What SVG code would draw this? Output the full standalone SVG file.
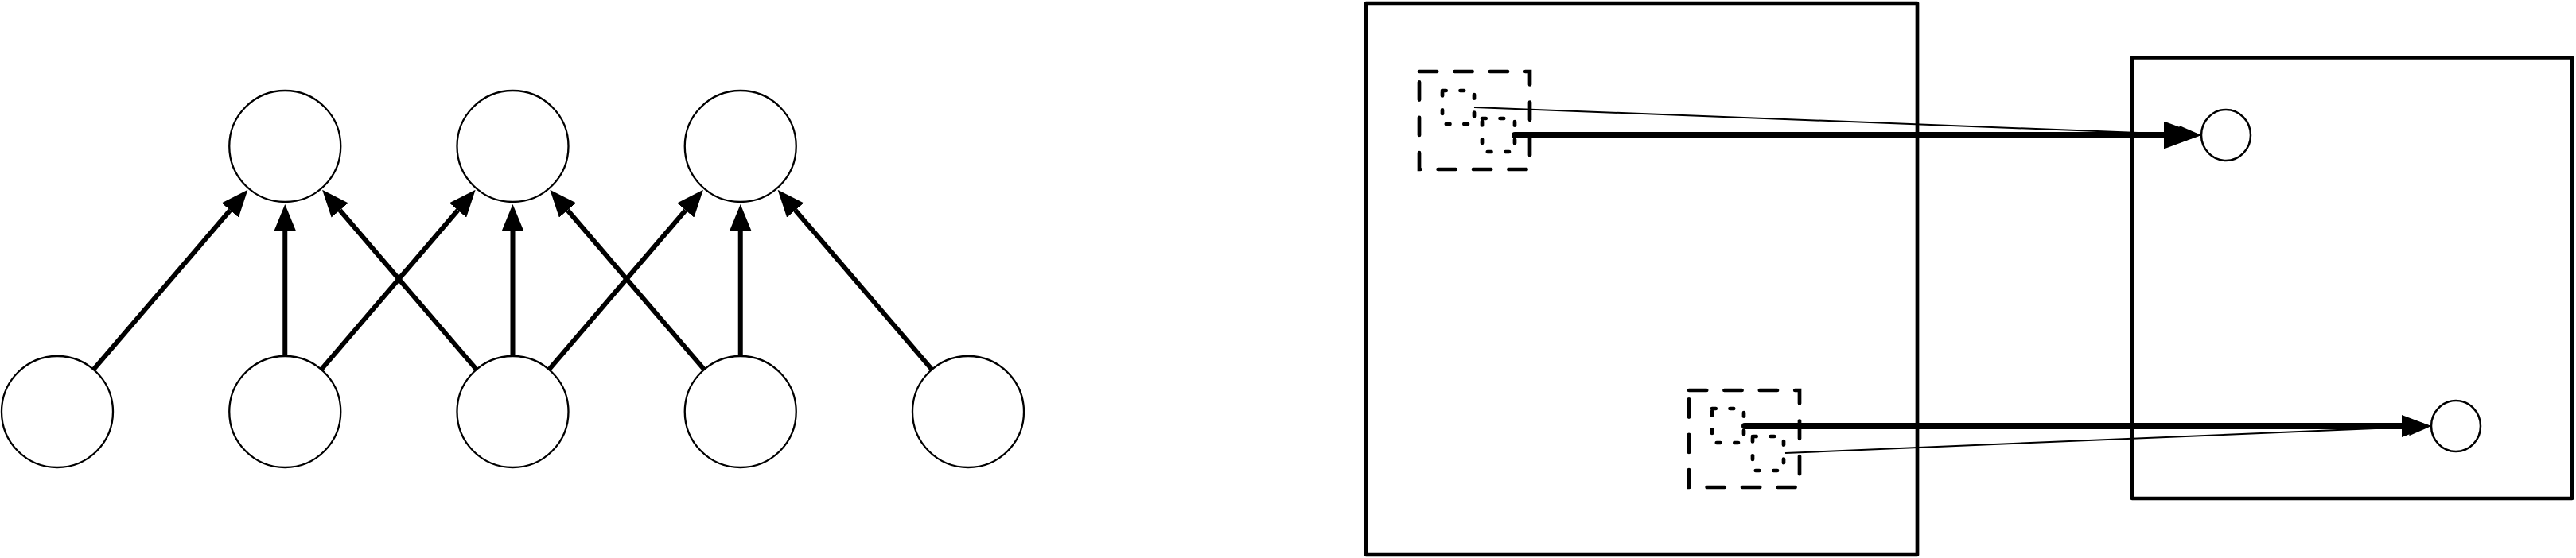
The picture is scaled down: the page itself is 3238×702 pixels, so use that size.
<svg xmlns="http://www.w3.org/2000/svg" width="3238" height="702" viewBox="0 0 3238 702">
<style>
.node{fill:#fff;stroke:#000;stroke-width:2.3}
.frame{fill:none;stroke:#000;stroke-width:4.7;stroke-linejoin:round}
.outer{fill:none;stroke:#000;stroke-width:4.7;stroke-dasharray:22.2 22.2;stroke-linecap:round}
.inner{fill:none;stroke:#000;stroke-width:4.7;stroke-dasharray:4.7 17.8;stroke-linecap:round}
.edge{fill:none;stroke:#000;stroke-width:6;marker-end:url(#arrowL)}
.thick{fill:none;stroke:#000;stroke-width:8;stroke-linecap:round}
.thin{fill:none;stroke:#000;stroke-width:2;marker-end:url(#arrowThin)}
.small{fill:#fff;stroke:#000;stroke-width:2.5}
</style>
<defs>
<marker id="arrowL" markerUnits="userSpaceOnUse" viewBox="0 -14 34 28" markerWidth="34" markerHeight="28" refX="0" refY="0" orient="auto"><path d="M0,-14 L34,0 L0,14 z" fill="#000"/></marker>
<marker id="arrowThickTop" markerUnits="userSpaceOnUse" viewBox="0 -17.5 47 35" markerWidth="47" markerHeight="35" refX="0" refY="0" orient="auto"><path d="M0,-17.5 L47,0 L0,17.5 z" fill="#000"/></marker>
<marker id="arrowThickBot" markerUnits="userSpaceOnUse" viewBox="0 -14 37 28" markerWidth="37" markerHeight="28" refX="0" refY="0" orient="auto"><path d="M0,-14 L37,0 L0,14 z" fill="#000"/></marker>
<marker id="arrowThin" markerUnits="userSpaceOnUse" viewBox="0 -11 28 22" markerWidth="28" markerHeight="22" refX="0" refY="0" orient="auto"><path d="M0,-11 L28,0 L0,11 z" fill="#000"/></marker>
</defs>
<rect width="3238" height="702" fill="#fff"/>

<g id="b0"><circle class="node" cx="72" cy="518" r="70"/></g>
<g id="b1"><circle class="node" cx="358.25" cy="518" r="70"/></g>
<g id="b2"><circle class="node" cx="644.5" cy="518" r="70"/></g>
<g id="b3"><circle class="node" cx="930.75" cy="518" r="70"/></g>
<g id="b4"><circle class="node" cx="1217" cy="518" r="70"/></g>
<g id="t0"><circle class="node" cx="358.25" cy="184" r="70"/></g>
<g id="t1"><circle class="node" cx="644.5" cy="184" r="70"/></g>
<g id="t2"><circle class="node" cx="930.75" cy="184" r="70"/></g>

<g id="frame-left"><rect class="frame" x="1717" y="4" width="693" height="694"/></g>
<g id="frame-right"><rect class="frame" x="2680" y="72.5" width="553" height="554.5"/></g>

<g id="group-top">
<rect class="outer" x="1784" y="90" width="139" height="123"/>
<rect class="inner" x="1813" y="114" width="40" height="42"/>
<rect class="inner" x="1863" y="149" width="41" height="42"/>
</g>
<g id="group-bottom">
<rect class="outer" x="2123" y="491" width="139" height="122"/>
<rect class="inner" x="2152" y="514" width="40" height="43"/>
<rect class="inner" x="2203" y="549" width="39" height="43"/>
</g>

<g id="connectors">
<line class="edge" x1="117.55" y1="464.85" x2="289.28" y2="264.49"/>
<line class="edge" x1="358.25" y1="448" x2="358.25" y2="291"/>
<line class="edge" x1="598.95" y1="464.85" x2="427.22" y2="264.49"/>
<line class="edge" x1="403.8" y1="464.85" x2="575.53" y2="264.49"/>
<line class="edge" x1="644.5" y1="448" x2="644.5" y2="291"/>
<line class="edge" x1="885.2" y1="464.85" x2="713.47" y2="264.49"/>
<line class="edge" x1="690.05" y1="464.85" x2="861.78" y2="264.49"/>
<line class="edge" x1="930.75" y1="448" x2="930.75" y2="291"/>
<line class="edge" x1="1171.45" y1="464.85" x2="999.72" y2="264.49"/>

<line class="thick" x1="1904" y1="170" x2="2720" y2="170" marker-end="url(#arrowThickTop)"/>
<line class="thin" x1="1853" y1="135" x2="2739.02" y2="168.93"/>
<line class="thick" x1="2193" y1="536" x2="3019" y2="536" marker-end="url(#arrowThickBot)"/>
<line class="thin" x1="2244" y1="570" x2="3028.02" y2="537.17"/>
</g>

<g id="circle-top"><ellipse class="small" cx="2798" cy="170" rx="31" ry="32"/></g>
<g id="circle-bottom"><ellipse class="small" cx="3087" cy="536" rx="31" ry="32"/></g>
</svg>
